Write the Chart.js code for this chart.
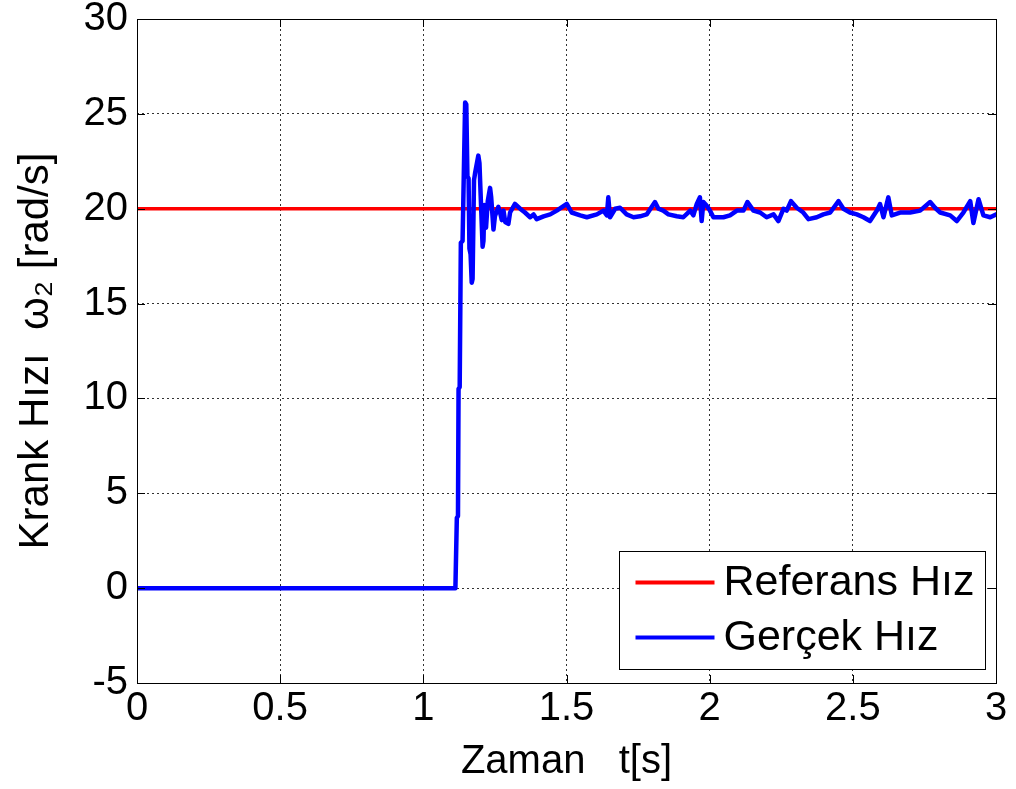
<!DOCTYPE html>
<html>
<head>
<meta charset="utf-8">
<title>Krank Hızı</title>
<script src="https://cdn.jsdelivr.net/npm/chart.js@4/dist/chart.umd.min.js"></script>
<style>
body { margin: 0; background: #fff; }
</style>
</head>
<body>
<canvas id="speedChart" width="1016" height="789"></canvas>
<script>
// reference speed (constant) and measured crank speed, t in seconds, w2 in rad/s
var refTime = [0, 3];
var refSpeed = [20, 20];

var measTime = [
    0, 1.112, 1.117, 1.121, 1.123, 1.127, 1.131, 1.137, 1.146, 1.150,
    1.154, 1.158, 1.161, 1.165, 1.169, 1.172, 1.177, 1.181, 1.192, 1.196,
    1.207, 1.210, 1.213, 1.216, 1.219, 1.225, 1.233, 1.237, 1.245, 1.250,
    1.262, 1.268, 1.274, 1.280, 1.286, 1.297, 1.303, 1.320, 1.338, 1.355,
    1.373, 1.385, 1.396, 1.420, 1.443, 1.466, 1.501, 1.518, 1.548, 1.571,
    1.606, 1.629, 1.641, 1.646, 1.652, 1.670, 1.687, 1.710, 1.734, 1.757,
    1.780, 1.809, 1.821, 1.838, 1.856, 1.885, 1.908, 1.932, 1.943, 1.955,
    1.966, 1.972, 1.978, 1.990, 2.001, 2.013, 2.048, 2.071, 2.095, 2.118,
    2.132, 2.153, 2.176, 2.199, 2.223, 2.240, 2.258, 2.269, 2.284, 2.304,
    2.327, 2.345, 2.374, 2.397, 2.421, 2.450, 2.467, 2.490, 2.514, 2.537,
    2.560, 2.584, 2.595, 2.607, 2.624, 2.636, 2.665, 2.700, 2.735, 2.770,
    2.787, 2.805, 2.840, 2.863, 2.886, 2.910, 2.921, 2.939, 2.956, 2.980,
    3.000
];
var measSpeed = [
    0, 0, 3.7, 3.8, 10.5, 10.6, 18.2, 18.3, 25.6, 25.5,
    21.7, 21.6, 17.9, 17.6, 16.1, 16.3, 21.5, 21.9, 22.8, 22.4,
    18.0, 18.3, 20.2, 19.5, 19.0, 20.4, 21.1, 20.6, 18.9, 19.6,
    20.1, 19.8, 19.4, 19.9, 19.3, 19.2, 19.8, 20.25, 20.0, 19.8,
    19.55, 19.7, 19.45, 19.6, 19.7, 19.9, 20.25, 19.8, 19.65, 19.55,
    19.7, 19.9, 19.65, 20.6, 19.55, 20.0, 20.05, 19.7, 19.55, 19.6,
    19.7, 20.35, 20.0, 19.9, 19.7, 19.6, 19.55, 19.9, 19.65, 20.25,
    20.6, 19.35, 20.35, 20.15, 19.9, 19.55, 19.55, 19.65, 19.9, 19.9,
    20.35, 19.9, 19.8, 19.55, 19.7, 19.35, 20.0, 19.9, 20.4, 20.05,
    19.8, 19.45, 19.55, 19.7, 19.8, 20.4, 20.0, 19.8, 19.7, 19.55,
    19.35, 19.9, 20.25, 19.55, 20.6, 19.65, 19.8, 19.8, 19.9, 20.35,
    20.05, 19.8, 19.65, 19.35, 19.8, 20.4, 19.25, 20.5, 19.65, 19.55,
    19.7
];

var xTicks = [0, 0.5, 1, 1.5, 2, 2.5, 3];
var yTicks = [-5, 0, 5, 10, 15, 20, 25, 30];

var seriesNames = ['Referans Hız', 'Gerçek Hız'];
var seriesColors = ['#ff0000', '#0000ff'];

var FONT = "'Liberation Sans', Arial, Helvetica, sans-serif";

function toPoints(xs, ys)
{
    var pts = [];
    for (var i = 0; i < xs.length; i++) {
        pts.push({x: xs[i], y: ys[i]});
    }
    return pts;
}

// box around the plot with inward ticks on all four sides, plus the legend inside
var boxPlugin = {
    id: 'matlabBox',
    afterDraw: function(chart) {
        var ctx = chart.ctx;
        var area = chart.chartArea;
        var xs = chart.scales.x;
        var ys = chart.scales.y;
        var tl = 8;
        ctx.save();
        ctx.strokeStyle = '#000';
        ctx.lineWidth = 1;
        ctx.beginPath();
        xTicks.forEach(function(v) {
            var px = Math.round(xs.getPixelForValue(v)) + 0.5;
            ctx.moveTo(px, area.bottom); ctx.lineTo(px, area.bottom - tl);
            ctx.moveTo(px, area.top); ctx.lineTo(px, area.top + tl);
        });
        yTicks.forEach(function(v) {
            var py = Math.round(ys.getPixelForValue(v)) + 0.5;
            ctx.moveTo(area.left, py); ctx.lineTo(area.left + tl, py);
            ctx.moveTo(area.right, py); ctx.lineTo(area.right - tl, py);
        });
        ctx.stroke();
        ctx.strokeRect(Math.round(area.left) + 0.5, Math.round(area.top) + 0.5,
            Math.round(area.right - area.left), Math.round(area.bottom - area.top));

        // legend box
        var w = 366, h = 118;
        var lx = Math.round(area.right - 11 - w) + 0.5;
        var ly = Math.round(area.bottom - 14 - h) + 0.5;
        ctx.fillStyle = '#fff';
        ctx.fillRect(lx, ly, w, h);
        ctx.strokeRect(lx, ly, w, h);
        ctx.font = '43px ' + FONT;
        ctx.textBaseline = 'middle';
        ctx.textAlign = 'left';
        for (var i = 0; i < seriesNames.length; i++) {
            var rowY = ly + 31 + i * 55;
            ctx.strokeStyle = seriesColors[i];
            ctx.lineWidth = 4;
            ctx.beginPath();
            ctx.moveTo(lx + 16, rowY);
            ctx.lineTo(lx + 95, rowY);
            ctx.stroke();
            ctx.fillStyle = '#000';
            ctx.fillText(seriesNames[i], lx + 104, rowY + 1);
        }
        ctx.restore();
    }
};

// keep tick labels from pushing the plot area inwards
function noOverhang(scale)
{
    scale.paddingTop = 0;
    scale.paddingBottom = 0;
    scale.paddingLeft = 0;
    scale.paddingRight = 0;
}

var ctx = document.getElementById('speedChart');
var chart = new Chart(ctx, {
    type: 'line',
    data: {
        datasets: [
            {
                label: seriesNames[0],
                data: toPoints(refTime, refSpeed),
                borderColor: seriesColors[0],
                borderWidth: 3.5,
                pointRadius: 0,
                tension: 0,
                order: 1
            },
            {
                label: seriesNames[1],
                data: toPoints(measTime, measSpeed),
                borderColor: seriesColors[1],
                borderWidth: 4.5,
                pointRadius: 0,
                tension: 0,
                borderJoinStyle: 'round',
                borderCapStyle: 'round',
                order: 0
            }
        ]
    },
    options: {
        responsive: false,
        animation: false,
        events: [],
        layout: { padding: { left: 0, right: 20, top: 19, bottom: 0 } },
        plugins: {
            legend: { display: false },
            tooltip: { enabled: false }
        },
        scales: {
            x: {
                type: 'linear',
                min: 0,
                max: 3,
                afterBuildTicks: function(scale) {
                    scale.ticks = xTicks.map(function(v) { return {value: v}; });
                },
                afterFit: function(scale) { scale.height = 106; noOverhang(scale); },
                ticks: {
                    color: '#000',
                    padding: 6,
                    maxRotation: 0,
                    callback: function(v) { return String(v); },
                    font: { family: FONT, size: 40, lineHeight: 1 }
                },
                grid: { color: 'rgba(0,0,0,0.8)', lineWidth: 1, drawTicks: false },
                border: { display: false, dash: [2, 3] },
                title: {
                    display: true,
                    text: 'Zaman   t[s]',
                    color: '#000',
                    font: { family: FONT, size: 40 },
                    padding: { top: 0, bottom: 3 }
                }
            },
            y: {
                type: 'linear',
                min: -5,
                max: 30,
                afterBuildTicks: function(scale) {
                    scale.ticks = yTicks.map(function(v) { return {value: v}; });
                },
                afterFit: function(scale) { scale.width = 137; noOverhang(scale); },
                ticks: {
                    color: '#000',
                    padding: 9,
                    callback: function(v) { return String(v); },
                    font: { family: FONT, size: 40, lineHeight: 1 }
                },
                grid: { color: 'rgba(0,0,0,0.8)', lineWidth: 1, drawTicks: false },
                border: { display: false, dash: [2, 3] },
                title: {
                    display: true,
                    text: 'Krank Hızı  ω₂ [rad/s]',
                    color: '#000',
                    font: { family: FONT, size: 42 },
                    padding: { top: 11, bottom: 0 }
                }
            }
        }
    },
    plugins: [boxPlugin]
});
</script>
</body>
</html>
